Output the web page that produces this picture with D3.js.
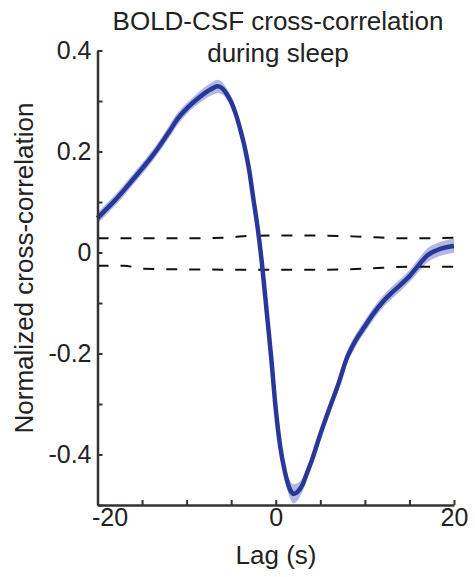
<!DOCTYPE html>
<html>
<head>
<meta charset="utf-8">
<script src="https://cdn.jsdelivr.net/npm/d3@7"></script>
<style>
  body { margin: 0; background: #fff; }
  svg { display: block; font-family: "Liberation Sans", Arial, Helvetica, sans-serif; }
</style>
</head>
<body>
<svg id="chart"></svg>
<script>
// data
var lags = [-20, -19, -18, -17, -16, -15, -14, -13, -12, -11, -10, -9, -8, -7.5, -7, -6.5, -6, -5.5, -5, -4.5,
  -4, -3.5, -3, -2.5, -2, -1.5, -1, -0.5, 0, 0.5, 1, 1.5, 2, 2.5, 3, 3.5, 4, 5, 6, 7,
  8, 9, 10, 11, 12, 13, 14, 15, 16, 17, 18, 19, 20];
var xcorr = [0.068, 0.086, 0.104, 0.124, 0.145, 0.166, 0.188, 0.212, 0.238, 0.265, 0.285, 0.301, 0.315, 0.321, 0.326, 0.329, 0.325, 0.314, 0.298, 0.275,
  0.245, 0.21, 0.165, 0.105, 0.045, -0.03, -0.12, -0.21, -0.31, -0.384, -0.432, -0.465, -0.478, -0.473, -0.46, -0.437, -0.414, -0.36, -0.31, -0.262,
  -0.208, -0.173, -0.146, -0.12, -0.098, -0.08, -0.064, -0.047, -0.026, -0.006, 0.004, 0.01, 0.013];
var sem = [0.011, 0.011, 0.011, 0.011, 0.011, 0.011, 0.011, 0.011, 0.012, 0.012, 0.011, 0.011, 0.012, 0.012, 0.013, 0.013, 0.012, 0.011, 0.011, 0.011,
  0.011, 0.011, 0.011, 0.011, 0.011, 0.011, 0.011, 0.011, 0.012, 0.013, 0.015, 0.017, 0.019, 0.017, 0.014, 0.012, 0.011, 0.011, 0.011, 0.011,
  0.012, 0.012, 0.012, 0.012, 0.012, 0.012, 0.012, 0.012, 0.013, 0.014, 0.014, 0.014, 0.014];

// null (shuffled) bounds, dashed
var nullLags = [-20, -17, -15, -10, -5, -3, 0, 5, 10, 15, 20];
var nullUpper = [0.028, 0.028, 0.028, 0.028, 0.03, 0.033, 0.0335, 0.0335, 0.031, 0.028, 0.029];
var nullLower = [-0.026, -0.026, -0.032, -0.0335, -0.034, -0.034, -0.034, -0.034, -0.032, -0.028, -0.028];

var xTicks = [-20, -15, -10, -5, 0, 5, 10, 15, 20];
var xTickLabels = ["-20", "", "", "", "0", "", "", "", "20"];
var yTicks = [-0.5, -0.4, -0.3, -0.2, -0.1, 0, 0.1, 0.2, 0.3, 0.4];
var yTickLabels = ["", "-0.4", "", "-0.2", "", "0", "", "0.2", "", "0.4"];

var W = 475, H = 577;
var margin = { top: 50.5, right: 21, bottom: 72, left: 97.5 },
  width = W - margin.left - margin.right,
  height = H - margin.top - margin.bottom;

var svg = d3.select("#chart")
  .attr("width", W)
  .attr("height", H);

var g = svg.append("g")
  .attr("transform", "translate(" + margin.left + "," + margin.top + ")");

var x = d3.scaleLinear().domain([-20, 20]).range([0, width]);
var y = d3.scaleLinear().domain([-0.5, 0.4]).range([height, 0]);

var pts = lags.map(function (l, i) { return { lag: l, v: xcorr[i], e: sem[i] }; });

// error band
var band = d3.area()
  .x(function (d) { return x(d.lag); })
  .y0(function (d) { return y(d.v - d.e); })
  .y1(function (d) { return y(d.v + d.e); })
  .curve(d3.curveMonotoneX);

g.append("path")
  .datum(pts)
  .attr("d", band)
  .attr("fill", "#b4b7e2");

// dashed null lines
var nullLine = d3.line()
  .x(function (d) { return x(d[0]); })
  .y(function (d) { return y(d[1]); })
  .curve(d3.curveMonotoneX);

[nullUpper, nullLower].forEach(function (arr) {
  g.append("path")
    .datum(nullLags.map(function (l, i) { return [l, arr[i]]; }))
    .attr("d", nullLine)
    .attr("fill", "none")
    .attr("stroke", "#111")
    .attr("stroke-width", 2)
    .attr("stroke-dasharray", "11,12");
});

// mean curve
var line = d3.line()
  .x(function (d) { return x(d.lag); })
  .y(function (d) { return y(d.v); })
  .curve(d3.curveMonotoneX);

g.append("path")
  .datum(pts)
  .attr("d", line)
  .attr("fill", "none")
  .attr("stroke", "#27389a")
  .attr("stroke-width", 4.5)
  .attr("stroke-linejoin", "round");

// axes
var xAxis = d3.axisBottom(x)
  .tickValues(xTicks)
  .tickFormat(function (d, i) { return xTickLabels[i]; })
  .tickSizeInner(-5)
  .tickSizeOuter(0)
  .tickPadding(3);

var yAxis = d3.axisLeft(y)
  .tickValues(yTicks)
  .tickFormat(function (d, i) { return yTickLabels[i]; })
  .tickSizeInner(-5)
  .tickSizeOuter(0)
  .tickPadding(6);

var gx = g.append("g")
  .attr("transform", "translate(0," + height + ")")
  .call(xAxis);

var gy = g.append("g")
  .call(yAxis);

[gx, gy].forEach(function (a) {
  a.select(".domain").attr("stroke", "#333").attr("stroke-width", 2.5);
  a.selectAll(".tick line").attr("stroke", "#333").attr("stroke-width", 2);
  a.selectAll("text")
    .attr("fill", "#222")
    .style("font-size", "25px")
    .style("font-family", "'Liberation Sans', Arial, sans-serif");
});

// MATLAB-style nudge of the first x label
gx.selectAll(".tick text").filter(function (d) { return d === -20; }).attr("dx", 12);

// labels
svg.append("text")
  .attr("x", 276)
  .attr("y", 564)
  .attr("text-anchor", "middle")
  .attr("fill", "#222")
  .style("font-size", "26px")
  .text("Lag (s)");

svg.append("text")
  .attr("transform", "translate(33,268) rotate(-90)")
  .attr("text-anchor", "middle")
  .attr("fill", "#222")
  .style("font-size", "26px")
  .text("Normalized cross-correlation");

var title = svg.append("text")
  .attr("x", 278)
  .attr("text-anchor", "middle")
  .attr("fill", "#222")
  .style("font-size", "26px");
title.append("tspan").attr("x", 278).attr("y", 30).text("BOLD-CSF cross-correlation");
title.append("tspan").attr("x", 278).attr("y", 61.5).text("during sleep");
</script>
</body>
</html>
